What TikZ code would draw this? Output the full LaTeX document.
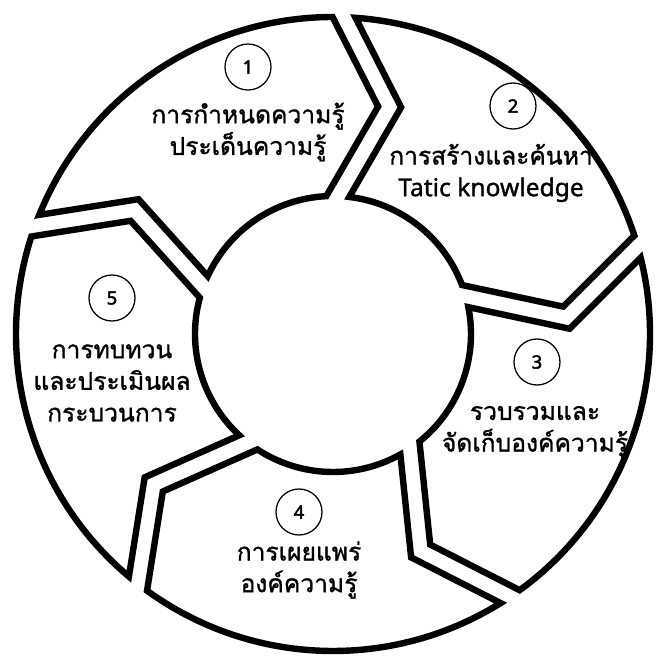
\documentclass[tikz,border=0pt]{standalone}
\usepackage{fontspec}
\setmainfont{Noto Sans}
\newfontfamily\thaifont[Script=Thai,FakeBold=1.2]{Loma}
\newfontfamily\latinfont[FakeBold=1.2]{Noto Sans}
\newfontfamily\numfont[FakeBold=2.5]{Noto Sans}
\usetikzlibrary{calc}

\begin{document}
\begin{tikzpicture}[x=0.025cm,y=0.025cm,
seg/.style={draw=black,fill=white,line width=0.16cm,line join=miter},
num/.style={circle,draw=black,line width=0.9pt,minimum size=1.15cm,inner sep=0pt,font=\numfont\fontsize{13}{13}\selectfont},
lbl/.style={align=center,font=\thaifont\fontsize{17.5}{22.5}\selectfont}]
\useasboundingbox (-333,-324) rectangle (324,334);
% five ring parts, clockwise from the upper left
\foreach \ts [evaluate=\ts as \te using \ts-72] in {160,88,16,-56,-128}
  \draw[seg] (\ts-2.08:317) arc[start angle=\ts-2.08,end angle=\te+2.08,radius=317]
    -- ($(\te-12:234)+(\te+90:11.5)$)
    -- (\te+4.78:138) arc[start angle=\te+4.78,end angle=\ts-4.78,radius=138]
    -- ($(\ts-12:234)+(\ts-90:11.5)$) -- cycle;
% numbers and labels
\node[num] (n1) at (-85,267) {1};
\node[lbl] (t1) at (-85,202) {การกำหนดความรู้\\ประเด็นความรู้};
\node[num] (n2) at (180,228) {2};
\node[lbl] (t2) at (158,161) {การสร้างและค้นหา\\{\latinfont Tatic knowledge}};
\node[num] (n3) at (204,-28) {3};
\node[lbl] (t3) at (202,-98) {รวบรวมและ\\จัดเก็บองค์ความรู้};
\node[num] (n4) at (-34,-178) {4};
\node[lbl] (t4) at (-34,-236) {การเผยแพร่\\องค์ความรู้};
\node[num] (n5) at (-221,36) {5};
\node[lbl] (t5) at (-221,-49) {การทบทวน\\และประเมินผล\\กระบวนการ};
\end{tikzpicture}
\end{document}
